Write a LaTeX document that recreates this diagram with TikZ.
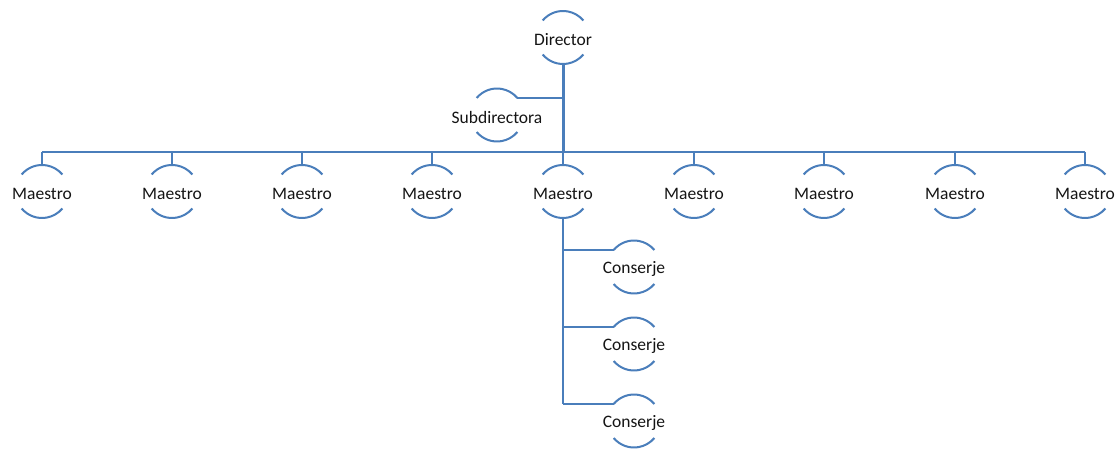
\documentclass[tikz,border=0pt]{standalone}
\usepackage{fontspec}
\setmainfont{Carlito}
\definecolor{lineblue}{RGB}{74,126,187}
\definecolor{txt}{RGB}{20,20,20}
\begin{document}
\begin{tikzpicture}[x=1pt,y=1pt,
  conn/.style={draw=lineblue,line width=2pt},
  arcline/.style={draw=lineblue,line width=2pt},
  lbl/.style={inner sep=0pt,text=txt,font=\fontsize{17.5}{20}\selectfont}]
\useasboundingbox (0,0) rectangle (1120,-449);
\newcommand{\rr}{26.5}
\newcommand{\unit}[4]{% name, x, y(down), text
  \coordinate (#1) at (#2,-#3);
  \coordinate (#1-top) at (#2,-#3+\rr);
  \coordinate (#1-bot) at (#2,-#3-\rr);
  \coordinate (#1-tl) at ({#2-0.766*\rr},{-#3+0.643*\rr});
  \coordinate (#1-tr) at ({#2+0.766*\rr},{-#3+0.643*\rr});
  \node[lbl] (#1-t) at (#2,-#3-2) {#4};
  \draw[arcline] (#1-tl) arc[start angle=140,end angle=40,radius=\rr];
  \draw[arcline] ({#2-0.766*\rr},{-#3-0.643*\rr}) arc[start angle=220,end angle=320,radius=\rr];
}
% nodes
\unit{dir}{563}{37.5}{Director}
\unit{sub}{497}{115}{Subdirectora}
\foreach \i/\x in {1/42,2/172,3/302,4/432,5/563,6/694,7/824,8/955,9/1085}{
  \unit{m\i}{\x}{191.5}{Maestro}
}
\unit{c1}{634}{267}{Conserje}
\unit{c2}{634}{344}{Conserje}
\unit{c3}{634}{421}{Conserje}
% bus
\coordinate (bus) at (563,-152);
\draw[conn,line width=3pt] (dir-bot) -- (bus);
\draw[conn] (sub-tr) -- (sub-tr -| dir);
\draw[conn] (m1 |- bus) -- (m9 |- bus);
\foreach \i in {1,...,9}{
  \draw[conn] (m\i |- bus) -- (m\i-top);
}
% conserje branch
\draw[conn] (m5-bot) -- (c3-tl -| m5);
\foreach \c in {c1,c2,c3}{
  \draw[conn] (\c-tl -| m5) -- (\c-tl);
}
\end{tikzpicture}
\end{document}
